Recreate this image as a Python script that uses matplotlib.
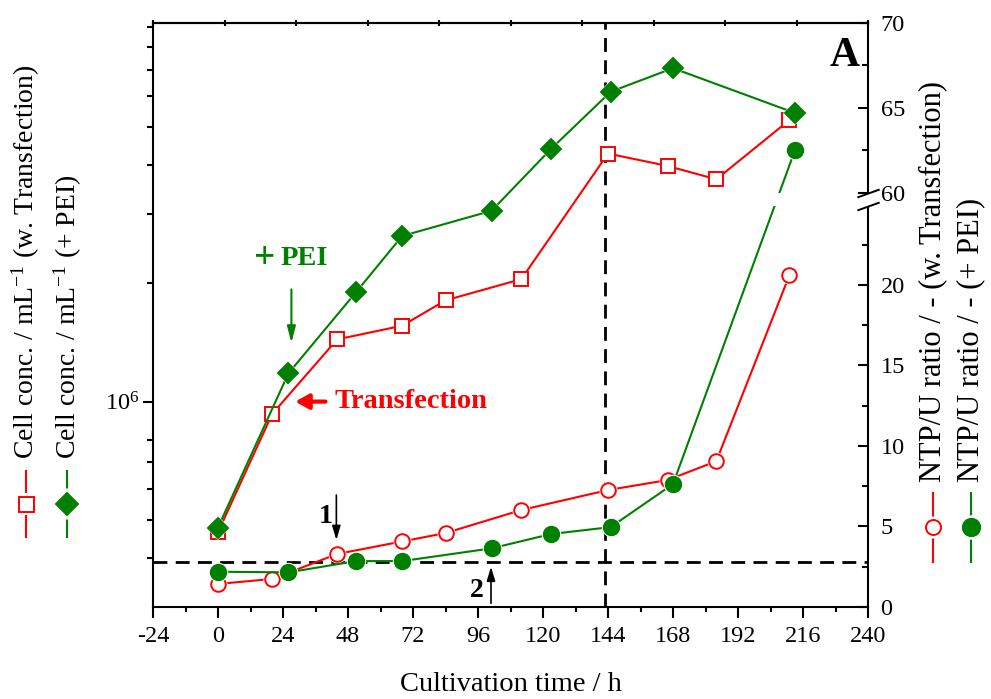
import numpy as np
import matplotlib
matplotlib.use("Agg")
import matplotlib.pyplot as plt
from matplotlib.lines import Line2D
from matplotlib.ticker import FixedLocator, FixedFormatter, NullFormatter, MultipleLocator

plt.rcParams['font.family'] = ['Liberation Serif', 'DejaVu Serif']
plt.rcParams['mathtext.fontset'] = 'custom'
plt.rcParams['mathtext.rm'] = 'Liberation Serif'
plt.rcParams['mathtext.it'] = 'Liberation Serif:italic'
plt.rcParams['mathtext.bf'] = 'Liberation Serif:bold'
plt.rcParams['axes.unicode_minus'] = False

# ---- data -------------------------------------------------------------
# sampling times (h)
t_trans = [0, 20, 44, 68, 84, 112, 144, 166, 184, 211]
t_pei = [0, 26, 51, 68, 101, 123, 145, 168, 213]

# viable cell concentration (cells / mL)
cells_trans = [4.65e5, 9.3e5, 1.44e6, 1.56e6, 1.81e6, 2.05e6, 4.28e6, 3.98e6, 3.68e6, 5.21e6]
cells_pei = [4.78e5, 1.18e6, 1.90e6, 2.64e6, 3.06e6, 4.40e6, 6.15e6, 7.06e6, 5.43e6]

# NTP/U ratio (-)
ntpu_trans = [1.43, 1.74, 3.29, 4.07, 4.59, 6.02, 7.26, 7.88, 9.05, 20.6]
ntpu_pei = [2.19, 2.15, 2.85, 2.85, 3.64, 4.53, 4.96, 7.63, 62.5]

ntpu_threshold = 2.8
t_harvest = 143

x_ticks = [-24, 0, 24, 48, 72, 96, 120, 144, 168, 192, 216, 240]
right_major = [0, 5, 10, 15, 20, 60, 65, 70]
right_minor = [2.5, 7.5, 12.5, 17.5, 22.5, 62.5, 67.5]
left_minor = [4e5, 5e5, 6e5, 7e5, 8e5, 2e6, 3e6, 4e6, 5e6, 6e6, 7e6, 8e6, 9e6]

RED = '#ff0000'
GREEN = '#008000'

# ---- broken right axis: 0..LOW_TOP below the break, 60..70 above it ----
LOW_TOP = 24.9
UP_BOT = 60.0
GAP = 0.8
UP_RATIO = 1.055
_xp = np.array([0.0, LOW_TOP, UP_BOT, 70.0])
_fp = np.array([0.0, LOW_TOP, LOW_TOP + GAP, LOW_TOP + GAP + 10 * UP_RATIO])


def fwd(v):
    return np.interp(np.asarray(v, dtype=float), _xp, _fp)


def inv(s):
    return np.interp(np.asarray(s, dtype=float), _fp, _xp)


W, H = 991, 699
fig = plt.figure(figsize=(W / 100, H / 100), dpi=100)
L, R, B, T = 153, 868, 607, 23
ax = fig.add_axes([L / W, 1 - B / H, (R - L) / W, (B - T) / H])
ax2 = ax.twinx()

lw_axis = 1.5
TICK_FS = 17.5


def series(axis, x, y, color, marker, ms, face, z):
    axis.plot(x, y, color=color, lw=1.5, zorder=z, solid_capstyle='butt')
    axis.plot(x, y, ls='none', marker=marker, ms=ms + 2.5, mfc='white',
              mec='white', mew=0, zorder=z + 0.1)
    axis.plot(x, y, ls='none', marker=marker, ms=ms, mfc=face, mec=color,
              mew=1.4, zorder=z + 0.2)


# ---- left axis: cell concentration (log) ------------------------------
ax.set_yscale('log')
ax.set_xlim(-24, 240)
ax.set_ylim(3.0e5, 9.2e6)

series(ax, t_trans, cells_trans, RED, 's', 9.6, 'white', 3)
series(ax, t_pei, cells_pei, GREEN, 'D', 10.2, GREEN, 4)

ax.axvline(t_harvest, color='k', lw=2, ls=(0, (5, 3)), zorder=2)

ax.yaxis.set_major_locator(FixedLocator([1e6]))
ax.yaxis.set_major_formatter(FixedFormatter([r'$\mathregular{10^6}$']))
ax.yaxis.set_minor_locator(FixedLocator(left_minor))
ax.yaxis.set_minor_formatter(NullFormatter())
ax.tick_params(axis='y', which='major', direction='out', length=7.5, width=lw_axis,
               labelsize=TICK_FS, pad=2)
ax.tick_params(axis='y', which='minor', direction='out', length=4.3, width=lw_axis)

ax.set_xticks(x_ticks)
ax.xaxis.set_minor_locator(MultipleLocator(12))
ax.tick_params(axis='x', which='major', direction='out', length=8, width=lw_axis,
               labelsize=TICK_FS, pad=5.5)
ax.tick_params(axis='x', which='minor', direction='out', length=3.6, width=lw_axis)
ax.set_xlabel('Cultivation time / h', fontsize=20.5, labelpad=18)

for s in ['left', 'bottom', 'top']:
    ax.spines[s].set_linewidth(lw_axis)
ax.spines['right'].set_visible(False)

top = ax.secondary_xaxis('top')
top.set_xticks(np.linspace(-24, 240, 11))
top.set_xticklabels([])
top.tick_params(axis='x', direction='inout', length=4.5, width=lw_axis)
top.spines['top'].set_linewidth(lw_axis)

# ---- right axis: NTP/U ratio (broken) ---------------------------------
ax2.set_yscale('function', functions=(fwd, inv))
ax2.set_ylim(0, 70)

series(ax2, t_trans, ntpu_trans, RED, 'o', 10.5, 'white', 3)
ax2.plot(t_pei, ntpu_pei, color=GREEN, lw=1.5, zorder=4)
ax2.fill_between([190, 225], LOW_TOP, UP_BOT, color='white', lw=0, zorder=4.05)
ax2.plot(t_pei, ntpu_pei, ls='none', marker='o', ms=14, mfc='white', mec='white',
         mew=0, zorder=4.1)
ax2.plot(t_pei, ntpu_pei, ls='none', marker='o', ms=11.5, mfc=GREEN, mec=GREEN,
         mew=1, zorder=4.2)

ax2.axhline(ntpu_threshold, color='k', lw=2, ls=(0, (5, 3)), zorder=2)

ax2.yaxis.set_major_locator(FixedLocator(right_major))
ax2.yaxis.set_major_formatter(FixedFormatter([str(v) for v in right_major]))
ax2.yaxis.set_minor_locator(FixedLocator(right_minor))
ax2.yaxis.set_minor_formatter(NullFormatter())
ax2.tick_params(axis='y', which='major', direction='in', length=7.5, width=lw_axis,
                labelsize=TICK_FS, pad=9)
ax2.tick_params(axis='y', which='minor', direction='in', length=4.3, width=lw_axis)
for s in ax2.spines.values():
    s.set_visible(False)

# right spine drawn in two pieces with break marks
ftop = float(fwd(70))
f_lo = float(fwd(LOW_TOP)) / ftop
f_hi = float(fwd(UP_BOT)) / ftop
ax2.plot([1, 1], [0, f_lo], transform=ax2.transAxes, color='k', lw=lw_axis,
         clip_on=False, solid_capstyle='butt', zorder=6)
ax2.plot([1, 1], [f_hi, 1], transform=ax2.transAxes, color='k', lw=lw_axis,
         clip_on=False, solid_capstyle='butt', zorder=6)
ax2.plot([1, 1], [f_lo, f_hi], transform=ax2.transAxes, ls='none',
         marker=[(-1, -0.36), (1, 0.36)], ms=16, mec='k', mew=1.4,
         clip_on=False, zorder=6)

# ---- annotations ------------------------------------------------------
ax.text(0.968, 0.9435, 'A', transform=ax.transAxes, fontsize=30,
        fontweight='bold', ha='center', va='center')

ax.text(17.2, 2.32e6, '+', color=GREEN, fontsize=27, fontweight='bold',
        ha='center', va='center')
ax.text(23.0, 2.32e6, 'PEI', color=GREEN, fontsize=20.5, fontweight='bold',
        ha='left', va='center')
ax.annotate('', xy=(27.1, 1.41e6), xytext=(27.1, 1.93e6),
            arrowprops=dict(arrowstyle='-|>,head_length=0.7,head_width=0.18',
                            color=GREEN, lw=1.5, mutation_scale=14,
                            shrinkA=0, shrinkB=0), zorder=6)

ax.text(42.9, 1.0e6, 'Transfection', color=RED, fontsize=20.5,
        fontweight='bold', ha='left', va='center')
ax.annotate('', xy=(28.5, 1.0e6), xytext=(39.7, 1.0e6),
            arrowprops=dict(arrowstyle='-|>,head_length=0.45,head_width=0.25',
                            color=RED, lw=3, mutation_scale=18,
                            shrinkA=0, shrinkB=0), zorder=6)

ax2.text(39.6, 5.6, '1', fontsize=20, fontweight='bold', ha='center', va='center')
ax2.annotate('', xy=(43.7, 4.16), xytext=(43.7, 6.95),
             arrowprops=dict(arrowstyle='-|>,head_length=0.6,head_width=0.18',
                             color='k', lw=1.2, mutation_scale=14,
                             shrinkA=0, shrinkB=0), zorder=6)
ax2.text(95.4, 1.05, '2', fontsize=20, fontweight='bold', ha='center', va='center')
ax2.annotate('', xy=(100.8, 2.5), xytext=(100.8, 0.23),
             arrowprops=dict(arrowstyle='-|>,head_length=0.6,head_width=0.18',
                             color='k', lw=1.2, mutation_scale=14,
                             shrinkA=0, shrinkB=0), zorder=6)


# ---- side legends (rotated labels with line/symbol keys) --------------
def fx(x):
    return x / W


def fy(y):
    return 1 - y / H


def key(x, y0, y1, ym, color, marker, ms, face):
    fig.add_artist(Line2D([fx(x), fx(x)], [fy(y0), fy(y1)], transform=fig.transFigure,
                          color=color, lw=1.5))
    fig.add_artist(Line2D([fx(x)], [fy(ym)], transform=fig.transFigure, ls='none',
                          marker=marker, ms=ms + 5, mfc='white', mec='white', mew=0))
    fig.add_artist(Line2D([fx(x)], [fy(ym)], transform=fig.transFigure, ls='none',
                          marker=marker, ms=ms, mfc=face, mec=color, mew=1.4))


key(25.7, 471, 537, 504, RED, 's', 10.8, 'white')
key(67.3, 471, 537, 504, GREEN, 'D', 11.2, GREEN)
fig.text(fx(26), fy(459), r'Cell conc. / mL$^{\mathregular{-1}}$ (w. Transfection)',
         rotation=90, fontsize=20, ha='center', va='bottom')
fig.text(fx(68), fy(459), r'Cell conc. / mL$^{\mathregular{-1}}$ (+ PEI)',
         rotation=90, fontsize=20, ha='center', va='bottom')

key(933, 493, 562, 527, RED, 'o', 10.8, 'white')
key(970.7, 493, 562, 527, GREEN, 'o', 12.5, GREEN)
fig.text(fx(933), fy(482), 'NTP/U ratio / - (w. Transfection)',
         rotation=90, fontsize=22, ha='center', va='bottom')
fig.text(fx(971), fy(482), 'NTP/U ratio / - (+ PEI)',
         rotation=90, fontsize=22, ha='center', va='bottom')

fig.savefig('out.png', dpi=100)
